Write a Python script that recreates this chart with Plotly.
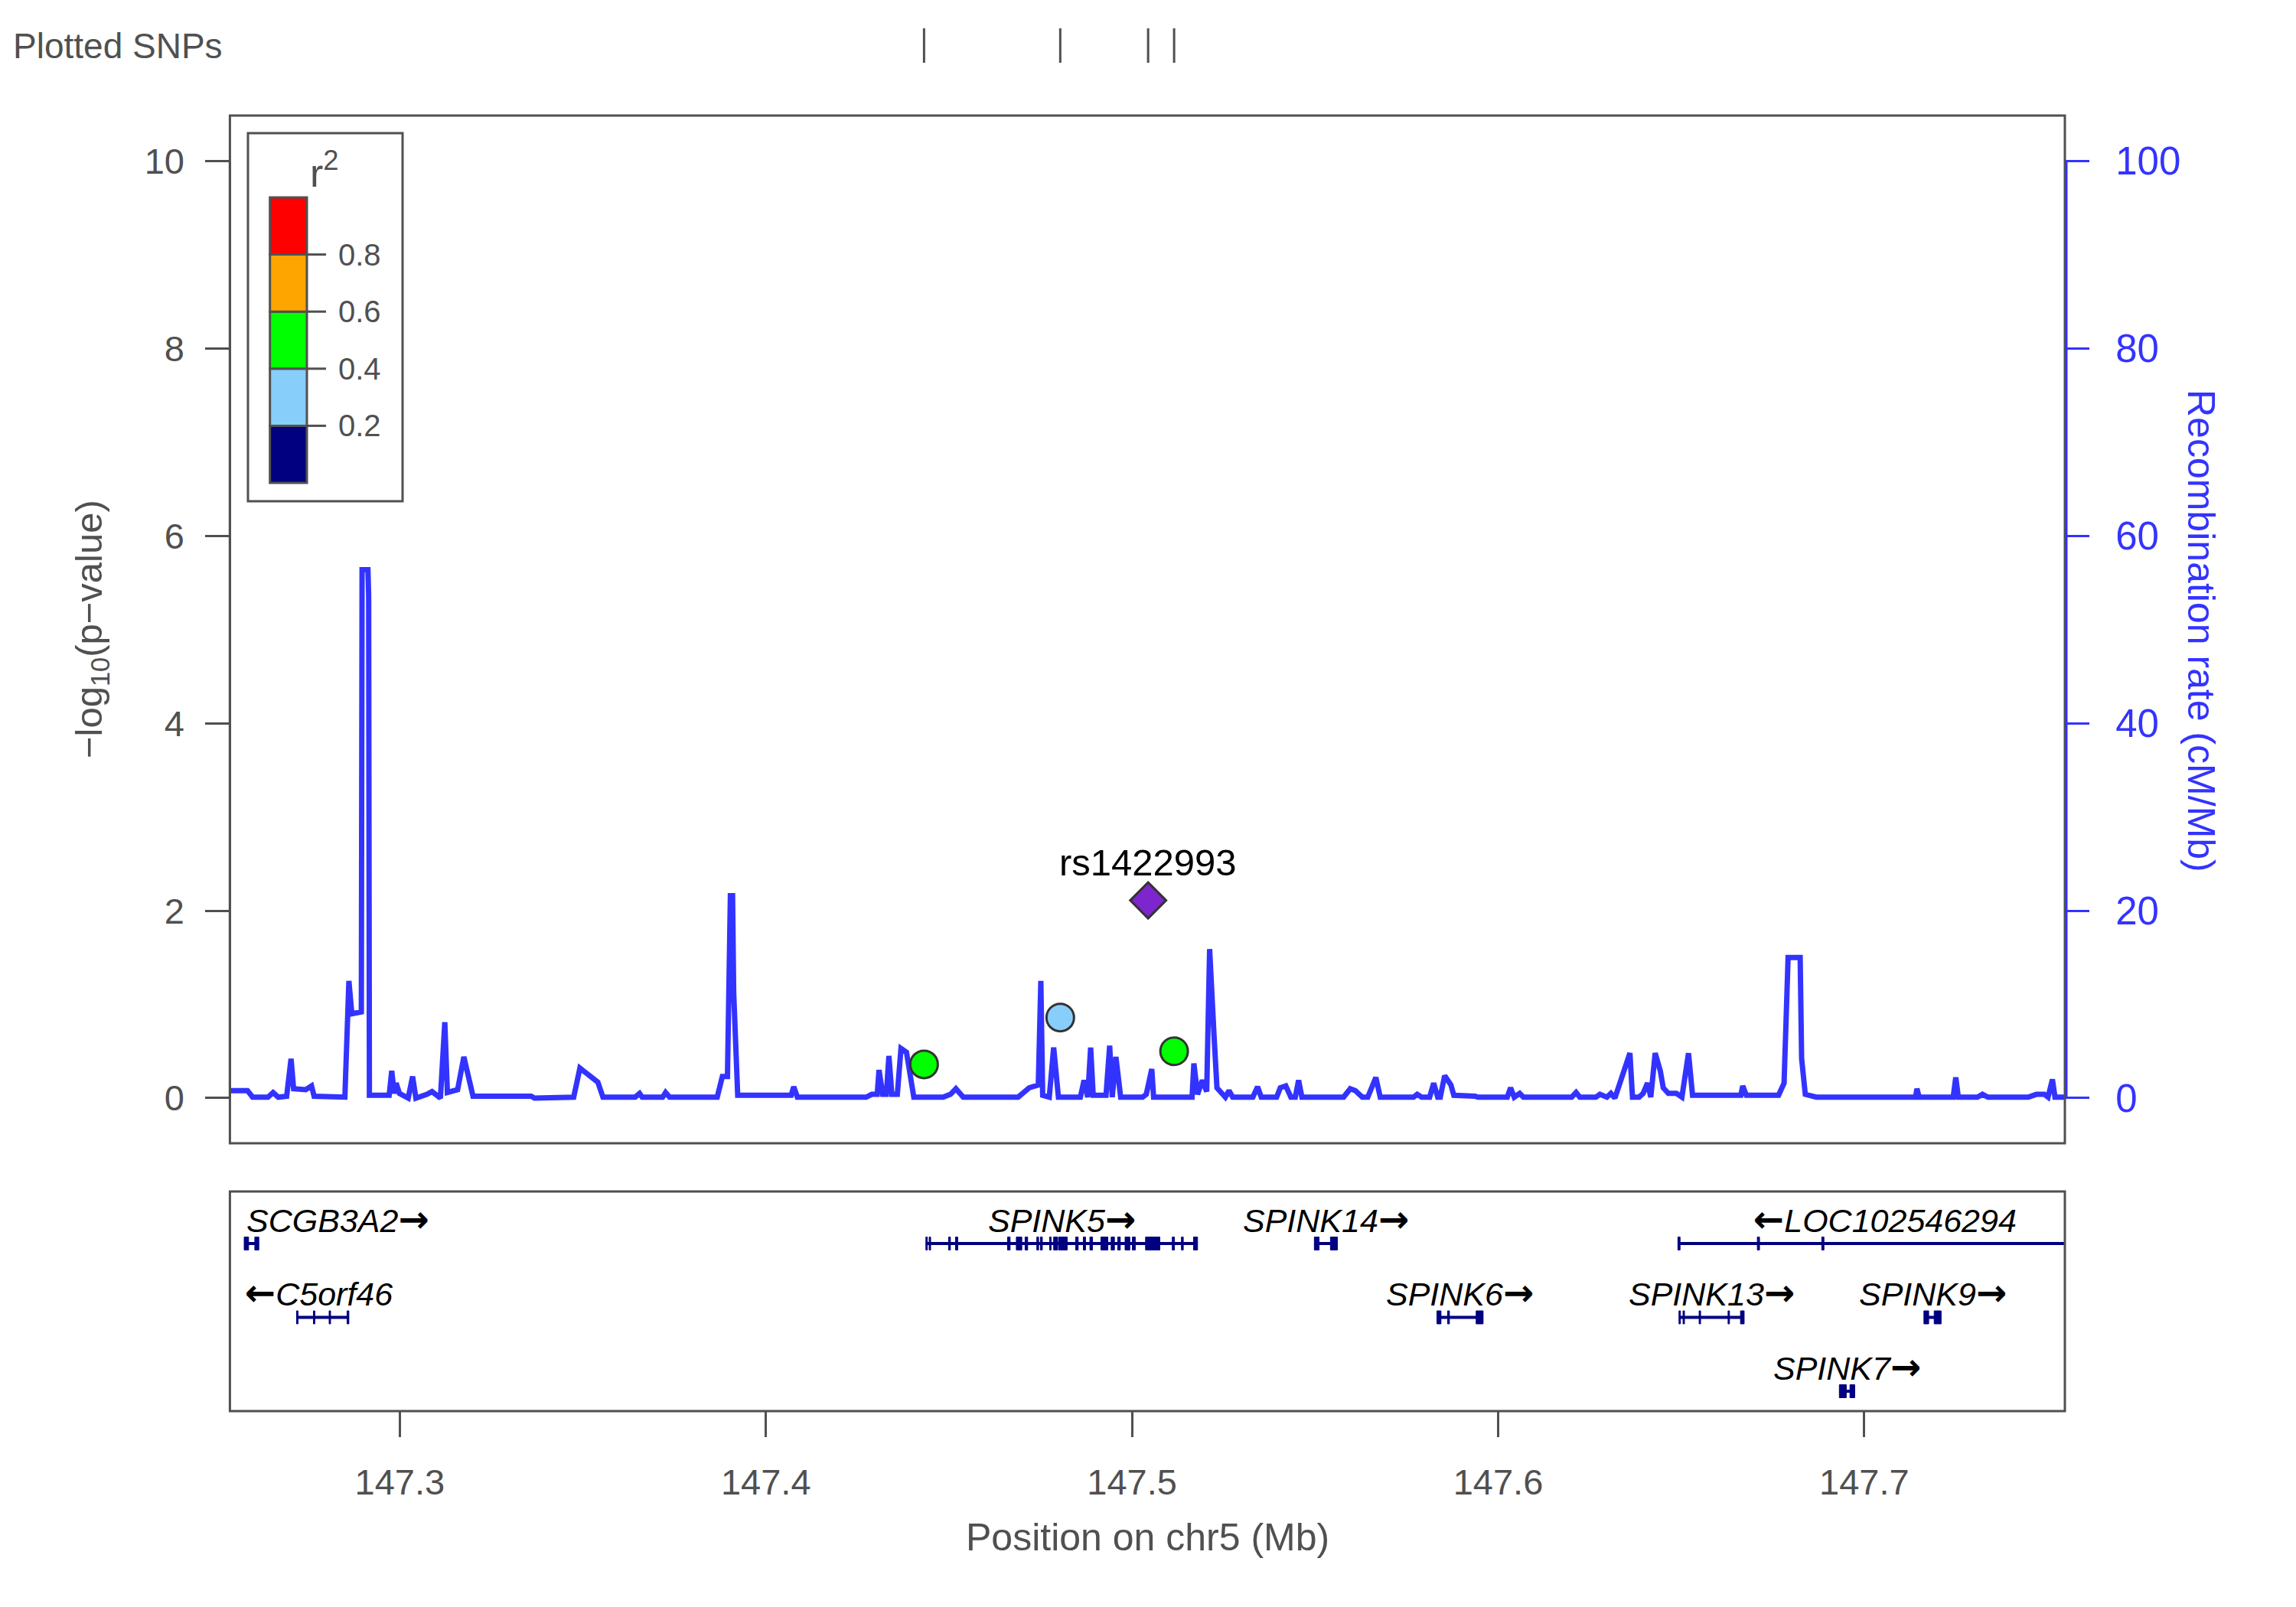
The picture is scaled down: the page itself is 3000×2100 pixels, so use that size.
import plotly.graph_objects as go

W, H = 3000, 2100

# ---------------- data ----------------
recomb_pos = [147.2536, 147.2549, 147.2584, 147.2598, 147.2640, 147.2654, 147.2668, 147.2691, 147.2703,
              147.2710, 147.2743, 147.2759, 147.2766, 147.2850, 147.2861, 147.2869, 147.2895, 147.2897,
              147.2913, 147.2915, 147.2917, 147.2971, 147.2978, 147.2985, 147.2990, 147.2999, 147.3023,
              147.3035, 147.3044, 147.3074, 147.3088, 147.3111, 147.3123, 147.3130, 147.3158, 147.3175,
              147.3200, 147.3359, 147.3368, 147.3475, 147.3492, 147.3541, 147.3555, 147.3643, 147.3655,
              147.3662, 147.3718, 147.3726, 147.3737, 147.3867, 147.3881, 147.3895, 147.3903, 147.3909,
              147.3912, 147.3923, 147.4069, 147.4076, 147.4086, 147.4274, 147.4289, 147.4304, 147.4309,
              147.4319, 147.4329, 147.4336, 147.4344, 147.4359, 147.4369, 147.4384, 147.4394, 147.4404,
              147.4484, 147.4504, 147.4519, 147.4539, 147.4689, 147.4719, 147.4744, 147.4751, 147.4756,
              147.4774, 147.4786, 147.4794, 147.4799, 147.4859, 147.4869, 147.4879, 147.4887, 147.4894,
              147.4929, 147.4939, 147.4946, 147.4956, 147.4969, 147.5029, 147.5039, 147.5054, 147.5059,
              147.5164, 147.5169, 147.5179, 147.5192, 147.5204, 147.5212, 147.5224, 147.5232, 147.5255,
              147.5265, 147.5275, 147.5330, 147.5343, 147.5353, 147.5395, 147.5405, 147.5420, 147.5434,
              147.5446, 147.5455, 147.5464, 147.5578, 147.5596, 147.5610, 147.5629, 147.5644, 147.5666,
              147.5678, 147.5769, 147.5779, 147.5791, 147.5813, 147.5824, 147.5835, 147.5842, 147.5854,
              147.5871, 147.5879, 147.5937, 147.5945, 147.6025, 147.6034, 147.6044, 147.6059, 147.6069,
              147.6201, 147.6213, 147.6223, 147.6267, 147.6278, 147.6297, 147.6308, 147.6319, 147.6360,
              147.6367, 147.6385, 147.6396, 147.6408, 147.6417, 147.6429, 147.6443, 147.6451, 147.6465,
              147.6487, 147.6502, 147.6520, 147.6531, 147.6663, 147.6668, 147.6678, 147.6766, 147.6781,
              147.6792, 147.6825, 147.6829, 147.6839, 147.6869, 147.7140, 147.7144, 147.7150, 147.7243,
              147.7250, 147.7257, 147.7309, 147.7323, 147.7338, 147.7448, 147.7470, 147.7492, 147.7502,
              147.7514, 147.7521, 147.7554]
recomb_rate = [0.8, 0.8, 0.8, 0.1, 0.1, 0.6, 0.1, 0.2, 4.2,
               1.0, 0.9, 1.3, 0.2, 0.1, 12.5, 9.0, 9.2, 56.4,
               56.4, 53.6, 0.3, 0.3, 2.9, 0.5, 1.6, 0.5, 0.0,
               2.3, 0.0, 0.4, 0.7, 0.0, 8.1, 0.6, 0.9, 4.4,
               0.2, 0.2, 0.0, 0.1, 3.2, 1.7, 0.1, 0.1, 0.5,
               0.1, 0.1, 0.6, 0.1, 0.1, 2.3, 2.3, 21.6, 21.6,
               11.3, 0.3, 0.3, 1.2, 0.1, 0.1, 0.4, 0.4, 3.0,
               0.4, 0.4, 4.5, 0.4, 0.4, 5.3, 4.9, 2.3, 0.1,
               0.1, 0.4, 1.0, 0.1, 0.1, 1.1, 1.4, 12.5, 0.3,
               0.1, 5.4, 2.2, 0.1, 0.1, 1.9, 0.1, 5.4, 0.3,
               0.3, 5.6, 0.1, 4.4, 0.1, 0.1, 0.4, 3.1, 0.1,
               0.1, 3.7, 0.4, 1.9, 0.7, 15.9, 6.7, 1.1, 0.1,
               0.8, 0.1, 0.1, 1.2, 0.1, 0.1, 1.1, 1.3, 0.1,
               0.1, 1.9, 0.1, 0.1, 1.0, 0.8, 0.1, 0.1, 2.2,
               0.1, 0.1, 0.4, 0.1, 0.1, 1.6, 0.1, 0.1, 2.4,
               1.4, 0.3, 0.2, 0.1, 0.1, 1.1, 0.1, 0.5, 0.1,
               0.1, 0.6, 0.1, 0.1, 0.4, 0.1, 0.5, 0.0, 4.8,
               0.1, 0.1, 0.5, 1.6, 0.1, 4.8, 2.9, 1.1, 0.5,
               0.5, 0.1, 4.8, 0.3, 0.3, 1.3, 0.3, 0.3, 1.6,
               15.0, 15.0, 4.2, 0.4, 0.1, 0.1, 1.0, 0.1, 0.1,
               2.2, 0.1, 0.1, 0.4, 0.1, 0.1, 0.4, 0.4, 0.1,
               2.0, 0.1, 0.1]

snp_pos = [147.4432, 147.4804, 147.5044, 147.5115]
snp_logp = [0.36, 0.86, 2.11, 0.50]
snp_r2 = [0.45, 0.30, 1.00, 0.50]
snp_is_lead = [False, False, True, False]
lead_name = "rs1422993"

r2_breaks = [0.0, 0.2, 0.4, 0.6, 0.8, 1.0]
r2_colors = ["#000080", "#87CEFA", "#00FF00", "#FFA500", "#FF0000"]
r2_tick_values = [0.2, 0.4, 0.6, 0.8]
r2_tick_labels = ["0.2", "0.4", "0.6", "0.8"]

gene_names = ["SCGB3A2", "C5orf46", "SPINK5", "SPINK14", "LOC102546294",
              "SPINK6", "SPINK13", "SPINK9", "SPINK7"]
gene_start = [147.2575, 147.2718, 147.4437, 147.5498, 147.6491,
              147.5833, 147.6494, 147.7163, 147.6932]
gene_end = [147.2615, 147.2861, 147.5179, 147.5561, 147.8000,
            147.5959, 147.6672, 147.7210, 147.6974]
gene_strand = ["+", "-", "+", "+", "-", "+", "+", "+", "+"]
gene_row = [1, 2, 1, 1, 1, 2, 2, 2, 3]
gene_exons = [
    [(147.2575, 147.2587), (147.2604, 147.2615)],
    [(147.2718, 147.2722), (147.2764, 147.2768), (147.2807, 147.2811), (147.2856, 147.2861)],
    [(147.4437, 147.4441), (147.4446, 147.4450), (147.4499, 147.4504), (147.4518, 147.4524),
     (147.4660, 147.4667), (147.4684, 147.4699), (147.4708, 147.4715), (147.4740, 147.4745),
     (147.4750, 147.4755), (147.4775, 147.4779), (147.4786, 147.4797), (147.4800, 147.4823),
     (147.4846, 147.4853), (147.4867, 147.4873), (147.4885, 147.4892), (147.4915, 147.4934),
     (147.4943, 147.4952), (147.4961, 147.4968), (147.4981, 147.4994), (147.5001, 147.5009),
     (147.5037, 147.5076), (147.5110, 147.5116), (147.5135, 147.5140), (147.5168, 147.5179)],
    [(147.5498, 147.5511), (147.5542, 147.5561)],
    [(147.6491, 147.6497), (147.6708, 147.6714), (147.6884, 147.6890)],
    [(147.5833, 147.5844), (147.5862, 147.5867), (147.5940, 147.5959)],
    [(147.6494, 147.6498), (147.6505, 147.6509), (147.6549, 147.6553), (147.6628, 147.6632),
     (147.6662, 147.6672)],
    [(147.7163, 147.7176), (147.7191, 147.7210)],
    [(147.6932, 147.6951), (147.6961, 147.6974)],
]

x_range = [147.2536, 147.7548]
x_tick_vals = [147.3, 147.4, 147.5, 147.6, 147.7]
x_tick_text = ["147.3", "147.4", "147.5", "147.6", "147.7"]
p_tick_vals = [0, 2, 4, 6, 8, 10]
rec_tick_vals = [0, 20, 40, 60, 80, 100]

# ---------------- style / layout ----------------
FONT = "Liberation Sans, Arial, Helvetica, sans-serif"
ARROW_FONT = "DejaVu Sans"
GRAY = "#505050"
BLUE = "#3333FF"
NAVY = "#000080"
LEAD_COLOR = "#7D26CD"

def px(x):
    return x / W

def py(y):
    return 1 - y / H

# panel pixel boxes
MAIN = (300.4, 151, 2698, 1494)   # left, top, right, bottom
GENE = (300.4, 1557, 2698, 1844)
STRIP = (37, 82)

dom_x = [px(MAIN[0]), px(MAIN[2])]
dom_main = [py(MAIN[3]), py(MAIN[1])]
dom_gene = [py(GENE[3]), py(GENE[1])]
dom_strip = [py(STRIP[1]), py(STRIP[0])]

p_range = [-0.482, 10.486]
rec_range = [-4.82, 104.86]
gene_y_range = [3.2694, 0.2953]
EXON_HALF = 0.088
LABEL_OFFSET = 0.332


def r2_color(v):
    for i in range(len(r2_colors)):
        if r2_breaks[i] <= v <= r2_breaks[i + 1]:
            return r2_colors[i]
    return r2_colors[-1]


fig = go.Figure()

# recombination rate (base axis y, right side)
fig.add_trace(go.Scatter(x=recomb_pos, y=recomb_rate, mode="lines",
                         line=dict(color=BLUE, width=7), xaxis="x", yaxis="y",
                         showlegend=False, hoverinfo="skip"))

# SNP points (overlaying axis y2, left side)
reg_idx = [i for i in range(len(snp_pos)) if not snp_is_lead[i]]
lead_idx = [i for i in range(len(snp_pos)) if snp_is_lead[i]]
fig.add_trace(go.Scatter(
    x=[snp_pos[i] for i in reg_idx], y=[snp_logp[i] for i in reg_idx], mode="markers",
    marker=dict(size=36, color=[r2_color(snp_r2[i]) for i in reg_idx],
                line=dict(color="#333333", width=3)),
    xaxis="x", yaxis="y2", showlegend=False))
fig.add_trace(go.Scatter(
    x=[snp_pos[i] for i in lead_idx], y=[snp_logp[i] for i in lead_idx], mode="markers",
    marker=dict(size=36, symbol="diamond", color=LEAD_COLOR,
                line=dict(color="#333333", width=3)),
    xaxis="x", yaxis="y2", showlegend=False))

# plotted SNPs rug
fig.add_trace(go.Scatter(x=snp_pos, y=[0.5] * len(snp_pos), mode="markers",
                         marker=dict(symbol="line-ns", size=45,
                                     line=dict(color=GRAY, width=3)),
                         xaxis="x", yaxis="y4", showlegend=False, hoverinfo="skip"))

# gene lines
gx, gy = [], []
for s, e, r in zip(gene_start, gene_end, gene_row):
    gx += [s, e, None]
    gy += [r, r, None]
fig.add_trace(go.Scatter(x=gx, y=gy, mode="lines", line=dict(color=NAVY, width=4),
                         xaxis="x2", yaxis="y3", showlegend=False, hoverinfo="skip"))

shapes = []
# exons
for exons, r in zip(gene_exons, gene_row):
    for s, e in exons:
        shapes.append(dict(type="rect", xref="x2", yref="y3", x0=s, x1=e,
                           y0=r - EXON_HALF, y1=r + EXON_HALF,
                           fillcolor=NAVY, line=dict(color=NAVY, width=1)))

# panel frames
for box in (MAIN, GENE):
    shapes.append(dict(type="rect", xref="paper", yref="paper",
                       x0=px(box[0]), x1=px(box[2]), y0=py(box[3]), y1=py(box[1]),
                       line=dict(color=GRAY, width=3), fillcolor="rgba(0,0,0,0)"))
# blue right axis line
shapes.append(dict(type="line", xref="paper", yref="y", x0=px(MAIN[2] + 2), x1=px(MAIN[2] + 2),
                   y0=rec_tick_vals[0], y1=rec_tick_vals[-1], line=dict(color=BLUE, width=3)))
# left axis line (0..10)
shapes.append(dict(type="line", xref="paper", yref="y2", x0=px(MAIN[0]), x1=px(MAIN[0]),
                   y0=p_tick_vals[0], y1=p_tick_vals[-1], line=dict(color=GRAY, width=3)))

# r2 legend
LEG_BOX = (324, 174, 526, 655)
BAR_X0, BAR_X1 = 352.7, 401
BAR_TOP, BAR_BOT = 258, 631
TICK_X1 = 426
LBL_X = 440

def bar_y(v):
    return BAR_BOT - v * (BAR_BOT - BAR_TOP)

shapes.append(dict(type="rect", xref="paper", yref="paper",
                   x0=px(LEG_BOX[0]), x1=px(LEG_BOX[2]), y0=py(LEG_BOX[3]), y1=py(LEG_BOX[1]),
                   line=dict(color=GRAY, width=3), fillcolor="white"))
for i, c in enumerate(r2_colors):
    shapes.append(dict(type="rect", xref="paper", yref="paper",
                       x0=px(BAR_X0), x1=px(BAR_X1),
                       y0=py(bar_y(r2_breaks[i])), y1=py(bar_y(r2_breaks[i + 1])),
                       fillcolor=c, line=dict(color=GRAY, width=3)))
for v in r2_tick_values:
    shapes.append(dict(type="line", xref="paper", yref="paper",
                       x0=px(BAR_X1), x1=px(TICK_X1), y0=py(bar_y(v)), y1=py(bar_y(v)),
                       line=dict(color=GRAY, width=3)))

annotations = []
for v, t in zip(r2_tick_values, r2_tick_labels):
    annotations.append(dict(xref="paper", yref="paper", x=px(LBL_X), y=py(bar_y(v)),
                            xanchor="left", yanchor="middle", text=t, showarrow=False,
                            font=dict(family=FONT, size=40, color=GRAY)))
annotations.append(dict(xref="paper", yref="paper", x=px(424), y=py(222), xanchor="center",
                        yanchor="middle", text="r<sup>2</sup>", showarrow=False,
                        font=dict(family=FONT, size=52, color=GRAY)))

# lead SNP label
for i in lead_idx:
    annotations.append(dict(xref="x", yref="y2", x=snp_pos[i], y=snp_logp[i], yshift=50,
                            text=lead_name, showarrow=False, xanchor="center", yanchor="middle",
                            font=dict(family=FONT, size=49, color="black")))

# gene labels
ARROW_STYLE = f"font-family:{ARROW_FONT};font-weight:bold;font-size:48px"
RIGHT_ARROW = f"<span style='{ARROW_STYLE}'>→</span>"
LEFT_ARROW = f"<span style='{ARROW_STYLE}'>←</span>"
label_align = {"SCGB3A2": ("left", 147.2577), "C5orf46": ("left", 147.2573),
               "LOC102546294": ("right", 147.7421)}
for name, s, e, strand, r in zip(gene_names, gene_start, gene_end, gene_strand, gene_row):
    txt = f"<i>{name}</i>{RIGHT_ARROW}" if strand == "+" else f"{LEFT_ARROW}<i>{name}</i>"
    anchor, xpos = label_align.get(name, ("center", (s + e) / 2))
    annotations.append(dict(xref="x2", yref="y3", x=xpos, y=r - LABEL_OFFSET,
                            xanchor=anchor, yanchor="middle", text=txt, showarrow=False,
                            font=dict(family=FONT, size=43, color="black")))

# titles
annotations.append(dict(xref="paper", yref="paper", x=px(15), y=py(60), xanchor="left",
                        yanchor="middle", text="Plotted SNPs", showarrow=False,
                        font=dict(family=FONT, size=46, color=GRAY)))
annotations.append(dict(xref="paper", yref="paper", x=px(119), y=py(822), xanchor="center",
                        yanchor="middle", textangle=-90, text="−log<sub>10</sub>(p−value)",
                        showarrow=False, font=dict(family=FONT, size=49, color=GRAY)))
annotations.append(dict(xref="paper", yref="paper", x=px(2876), y=py(824), xanchor="center",
                        yanchor="middle", textangle=90, text="Recombination rate (cM/Mb)",
                        showarrow=False, font=dict(family=FONT, size=50, color=BLUE)))
annotations.append(dict(xref="paper", yref="paper", x=px(1499), y=py(2009), xanchor="center",
                        yanchor="middle", text="Position on chr5 (Mb)", showarrow=False,
                        font=dict(family=FONT, size=50, color=GRAY)))

tickfont_gray = dict(family=FONT, size=47, color=GRAY)

fig.update_layout(
    width=W, height=H, paper_bgcolor="white", plot_bgcolor="white",
    margin=dict(l=0, r=0, t=0, b=0), showlegend=False,
    shapes=shapes, annotations=annotations,
    xaxis=dict(domain=dom_x, range=x_range, anchor="y", showticklabels=False, ticks="",
               showgrid=False, zeroline=False, showline=False),
    yaxis=dict(domain=dom_main, range=rec_range, anchor="x", side="right",
               tickvals=rec_tick_vals, ticks="outside", ticklen=31, tickwidth=3,
               tickcolor=BLUE, tickfont=dict(family=FONT, size=51, color=BLUE),
               ticklabelstandoff=24, showgrid=False, zeroline=False, showline=False),
    yaxis2=dict(range=p_range, overlaying="y", anchor="x", side="left",
                tickvals=p_tick_vals, ticks="outside", ticklen=31, tickwidth=3,
                tickcolor=GRAY, tickfont=tickfont_gray, ticklabelstandoff=18,
                showgrid=False, zeroline=False, showline=False),
    xaxis2=dict(domain=dom_x, matches="x", range=x_range, anchor="y3",
                tickvals=x_tick_vals, ticktext=x_tick_text, ticks="outside", ticklen=33,
                tickwidth=3, tickcolor=GRAY, tickfont=tickfont_gray, ticklabelstandoff=19,
                showgrid=False, zeroline=False, showline=False),
    yaxis3=dict(domain=dom_gene, range=gene_y_range, anchor="x2", showticklabels=False,
                ticks="", showgrid=False, zeroline=False, showline=False),
    yaxis4=dict(domain=dom_strip, range=[0, 1], anchor="x", showticklabels=False,
                ticks="", showgrid=False, zeroline=False, showline=False),
)

fig.write_html("out.html", config={"displayModeBar": False},
               post_script="document.body.style.margin='0px';")
